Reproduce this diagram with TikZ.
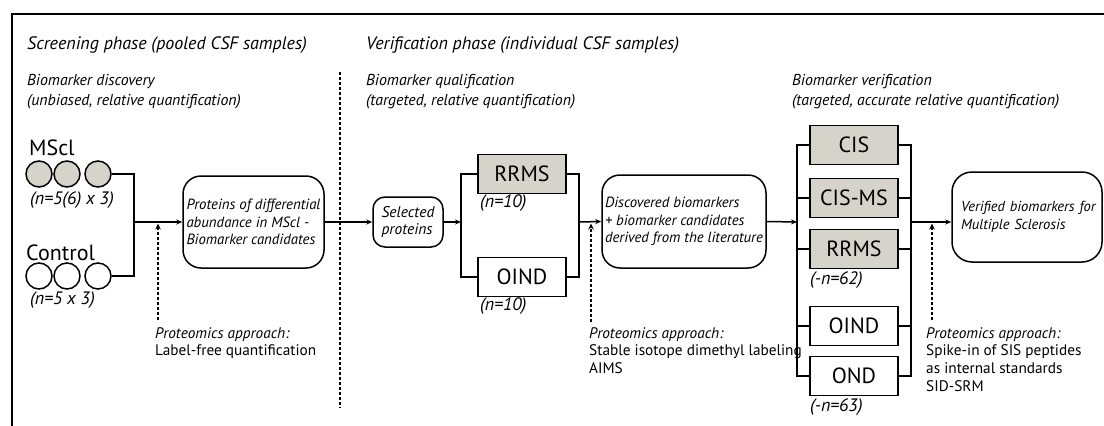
\documentclass[tikz,border=0pt]{standalone}
\usepackage{fontspec}
\setmainfont{PT Sans}
\usetikzlibrary{arrows.meta}
\definecolor{boxgrey}{RGB}{214,211,203}
\tikzset{
  conn/.style={line width=1.5pt},
  arr/.style={conn,-{Stealth[length=6pt,width=5pt]}},
  dotarr/.style={line width=1.3pt,dash pattern=on 3pt off 2pt,-{Stealth[length=6pt,width=5.5pt]},shorten >=1.5pt},
  sep/.style={line width=1.5pt,dash pattern=on 3pt off 2pt},
  roundbox/.style={draw,line width=1.5pt,rounded corners=18pt,align=left,inner sep=0pt,
     font=\fontsize{14.8}{17.5}\selectfont\itshape},
  groupbox/.style={draw,line width=1.5pt,inner sep=0pt,minimum width=88pt,minimum height=39pt,
     font=\fontsize{22}{26}\selectfont},
  greybox/.style={groupbox,fill=boxgrey},
  circ/.style={draw,circle,line width=1.5pt,minimum size=26pt,inner sep=0pt},
  heading/.style={anchor=west,inner sep=0pt,font=\fontsize{18}{22}\selectfont\itshape},
  subhead/.style={anchor=north west,inner sep=0pt,align=left,font=\fontsize{15.8}{20}\selectfont\itshape},
  count/.style={anchor=west,inner sep=0pt,font=\fontsize{18}{22}\selectfont\itshape},
  grouplabel/.style={anchor=west,inner sep=0pt,font=\fontsize{22}{26}\selectfont},
  note/.style={anchor=north west,inner sep=0pt,align=left,font=\fontsize{15.3}{17.7}\selectfont},
}
\begin{document}
\begin{tikzpicture}[x=1pt,y=-1pt]
\useasboundingbox (0,0) rectangle (1104,426);
% frame
\draw[line width=2pt] (1104,14) -- (12,14) -- (12,426);

% phase headings
\node[heading] (hscreen) at (27,45) {Screening phase (pooled CSF samples)};
\node[heading] (hverif) at (366,45) {Verification phase (individual CSF samples)};
\node[subhead] (sdisc) at (27,74) {Biomarker discovery\\(unbiased, relative quantification)};
\node[subhead] (squal) at (366,74) {Biomarker qualification\\(targeted, relative quantification)};
\node[subhead] (sver) at (792,74) {Biomarker verification\\(targeted, accurate relative quantification)};

% phase separator
\coordinate (septop) at (340,72);
\coordinate (sepbot) at (340,408);
\draw[sep] (septop) -- (sepbot);

% sample groups
\node[grouplabel] (lms) at (29,148) {MScl};
\node[circ,fill=boxgrey] (m1) at (39,174) {};
\node[circ,fill=boxgrey] (m2) at (67,174) {};
\node[circ,fill=boxgrey] (m3) at (98,174) {};
\node[count] (nms) at (30,200) {(n=5(6) x 3)};
\node[grouplabel] (lct) at (26,253) {Control};
\node[circ] (c1) at (39,276) {};
\node[circ] (c2) at (67,276) {};
\node[circ] (c3) at (98,276) {};
\node[count] (nct) at (30,300) {(n=5 x 3)};

% discovery
\coordinate (jl) at (134,222);
\draw[conn] (m3.east) -| (jl);
\draw[conn] (c3.east) -| (jl);
\node[roundbox,minimum width=141pt,minimum height=92pt] (cand) at (253.5,222)
  {Proteins of differential\\abundance in MScl -\\Biomarker candidates};
\draw[arr] (jl) -- (cand.west);
\coordinate (pa1) at (158,320);
\draw[dotarr] (pa1) -- (pa1 |- jl);
\node[note] (na1) at (155,327) {\textit{Proteomics approach:}\\Label-free quantification};

% qualification
\node[roundbox,rounded corners=12pt,minimum width=70pt,minimum height=50pt,
      font=\fontsize{15.5}{17.5}\selectfont\itshape] (sel) at (408,222)
  {Selected\\proteins};
\draw[arr] (cand.east) -- (sel.west);
\coordinate (ql) at (461,222);
\coordinate (qr) at (579,222);
\draw[arr] (sel.east) -- (ql);
\node[greybox] (qrrms) at (522,174) {RRMS};
\node[groupbox] (qoind) at (522,277) {OIND};
\node[count] (nq1) at (480,203) {(n=10)};
\node[count] (nq2) at (480,306) {(n=10)};
\draw[conn] (qrrms.west) -| (ql);
\draw[conn] (qoind.west) -| (ql);
\draw[conn] (qrrms.east) -| (qr);
\draw[conn] (qoind.east) -| (qr);
\node[roundbox,minimum width=164pt,minimum height=93pt] (disc) at (684,221.5)
  {Discovered biomarkers\\+ biomarker candidates\\derived from the literature};
\draw[arr] (qr) -- (disc.west);
\coordinate (pa2) at (591,322);
\draw[dotarr] (pa2) -- (pa2 |- qr);
\node[note] (na2) at (589,327) {\textit{Proteomics approach:}\\Stable isotope dimethyl labeling\\AIMS};

% verification
\coordinate (vl) at (797,222);
\coordinate (vr) at (911,222);
\draw[arr] (disc.east) -- (vl);
\node[greybox] (vcis) at (854,145) {CIS};
\node[greybox] (vcisms) at (854,198) {CIS-MS};
\node[greybox] (vrrms) at (854,249) {RRMS};
\node[groupbox] (voind) at (854,326) {OIND};
\node[groupbox] (vond) at (854,376) {OND};
\node[count] (nv1) at (810,280) {(-n=62)};
\node[count] (nv2) at (810,407) {(-n=63)};
\foreach \b in {vcis,vcisms,vrrms,voind,vond}{
  \draw[conn] (\b.west) -| (vl);
  \draw[conn] (\b.east) -| (vr);
}
\node[roundbox,rounded corners=20pt,minimum width=150pt,minimum height=90pt,text width=144pt,
      font=\fontsize{14.5}{17.5}\selectfont\itshape] (final) at (1027,217)
  {\hspace*{6pt}Verified biomarkers for\\\hspace*{6pt}Multiple Sclerosis};
\draw[arr] (vr) -- (vr -| final.west);
\coordinate (pa3) at (932,320);
\draw[dotarr] (pa3) -- (pa3 |- vr);
\node[note] (na3) at (926,327) {\textit{Proteomics approach:}\\Spike-in of SIS peptides\\as internal standards\\SID-SRM};
\end{tikzpicture}
\end{document}
